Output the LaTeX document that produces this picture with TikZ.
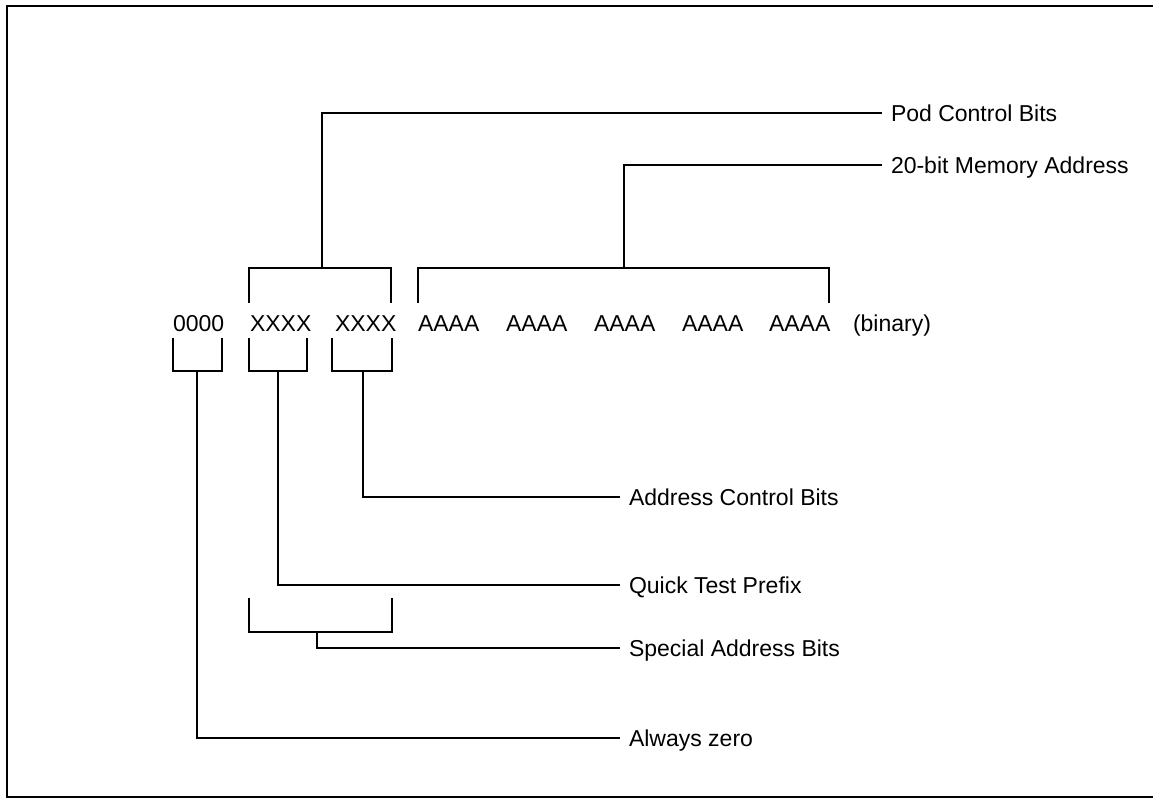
\documentclass[tikz,border=0pt]{standalone}
\usepackage{fontspec}
\setmainfont{Liberation Sans}
\usepackage{tikz}

\begin{document}
\begin{tikzpicture}[x=0.5pt, y=-0.5pt, line width=1pt,
  bits/.style={anchor=base west, inner sep=0pt, font=\fontsize{11.5pt}{14pt}\selectfont},
  lbl/.style={anchor=west, inner xsep=4pt, inner ysep=0pt, text height=8.3pt, text depth=0pt, font=\fontsize{11.5pt}{14pt}\selectfont}]%
\useasboundingbox (0,0) rectangle (1153,801);%
\draw (1153,6) -- (7,6) -- (7,797) -- (1153,797);%
% the word
\node[bits] (zero) at (172, 332) {0000};%
\node[bits] (xa) at (249, 332) {XXXX};%
\node[bits] (xb) at (334, 332) {XXXX};%
\node[bits] (aa) at (417, 332) {AAAA};%
\node[bits] (ab) at (505, 332) {AAAA};%
\node[bits] (ac) at (593, 332) {AAAA};%
\node[bits] (ad) at (681, 332) {AAAA};%
\node[bits] (ae) at (768, 332) {AAAA};%
\node[bits] (bin) at (852, 332) {(binary)};%
% labels
\node[lbl] (pod) at (882, 113) {Pod Control Bits};%
\node[lbl] (mem) at (882, 165) {20-bit Memory Address};%
\node[lbl] (adc) at (620, 497) {Address Control Bits};%
\node[lbl] (qtp) at (620, 585) {Quick Test Prefix};%
\node[lbl] (spc) at (620, 648) {Special Address Bits};%
\node[lbl] (alz) at (620, 738) {Always zero};%
% brackets above
\draw (249,303) |- (391,268) -- (391,303);%
\coordinate (podc) at (322,268);%
\draw (418,303) |- (829,268) -- (829,303);%
\coordinate (memc) at (624,268);%
% brackets below
\draw (173,338) |- (222,371) -- (222,338);%
\coordinate (zeroc) at (197,371);%
\draw (249,338) |- (307,371) -- (307,338);%
\coordinate (xac) at (278,371);%
\draw (332,338) |- (392,371) -- (392,338);%
\coordinate (xbc) at (363,371);%
\draw (249,598) |- (392,632) -- (392,598);%
\coordinate (spcc) at (317,632);%
% leaders
\draw (podc) |- (pod.west);%
\draw (memc) |- (mem.west);%
\draw (xbc) |- (adc.west);%
\draw (xac) |- (qtp.west);%
\draw (spcc) |- (spc.west);%
\draw (zeroc) |- (alz.west);%
\end{tikzpicture}
\end{document}
